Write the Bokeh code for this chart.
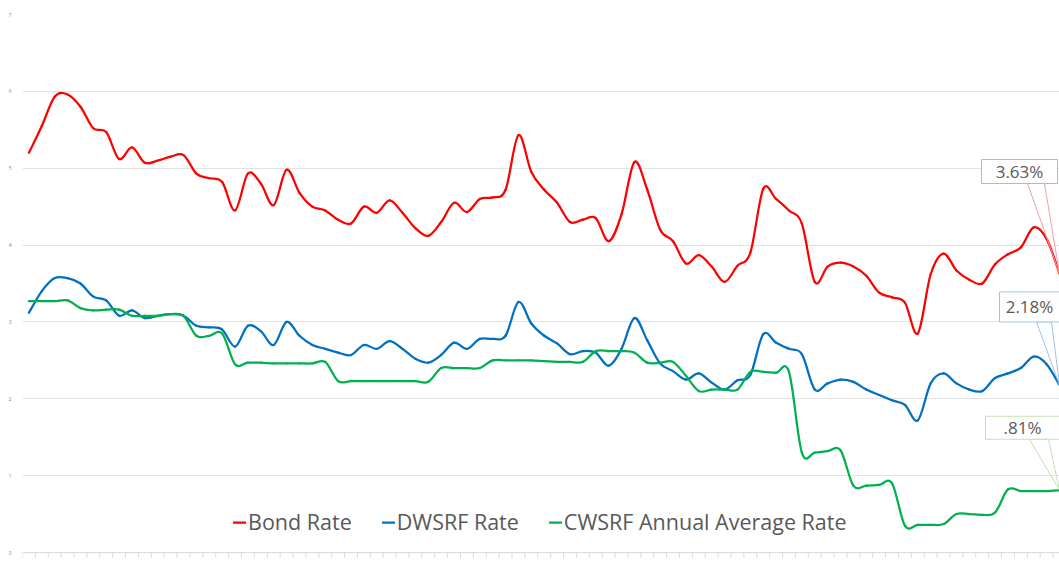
import numpy as np
from bokeh.plotting import figure
from bokeh.models import (Range1d, FixedTicker, BoxAnnotation, Span,
                          PolyAnnotation, Label, Legend, LegendItem)
from bokeh.embed import file_html
from bokeh.resources import INLINE

# ---------------- data ----------------
series_names = ["Bond Rate", "DWSRF Rate", "CWSRF Annual Average Rate"]

bond_rate = [5.20, 5.55, 5.93, 5.96, 5.80, 5.52, 5.47, 5.12, 5.27, 5.07,
             5.10, 5.15, 5.17, 4.93, 4.87, 4.82, 4.45, 4.93, 4.80, 4.52,
             4.98, 4.68, 4.50, 4.45, 4.33, 4.28, 4.50, 4.42, 4.58, 4.42,
             4.22, 4.12, 4.30, 4.55, 4.43, 4.60, 4.62, 4.72, 5.43, 4.95,
             4.72, 4.55, 4.30, 4.33, 4.35, 4.05, 4.40, 5.08, 4.72, 4.20,
             4.05, 3.76, 3.87, 3.72, 3.52, 3.73, 3.90, 4.73, 4.60, 4.45,
             4.28, 3.52, 3.72, 3.77, 3.72, 3.60, 3.38, 3.32, 3.25, 2.85,
             3.62, 3.89, 3.67, 3.55, 3.50, 3.75, 3.88, 3.97, 4.23, 4.08,
             3.63]

dwsrf_rate = [3.12, 3.40, 3.57, 3.57, 3.50, 3.33, 3.28, 3.08, 3.15, 3.05,
              3.08, 3.10, 3.08, 2.95, 2.93, 2.90, 2.68, 2.95, 2.88, 2.70,
              3.00, 2.82, 2.70, 2.65, 2.60, 2.57, 2.70, 2.65, 2.75, 2.65,
              2.52, 2.47, 2.57, 2.73, 2.65, 2.78, 2.78, 2.82, 3.26, 2.98,
              2.82, 2.72, 2.58, 2.62, 2.60, 2.43, 2.65, 3.05, 2.76, 2.46,
              2.36, 2.25, 2.33, 2.21, 2.12, 2.24, 2.31, 2.84, 2.73, 2.65,
              2.58, 2.12, 2.20, 2.25, 2.22, 2.12, 2.05, 1.98, 1.92, 1.72,
              2.20, 2.33, 2.20, 2.12, 2.10, 2.27, 2.33, 2.40, 2.55, 2.45,
              2.18]

cwsrf_rate = [3.27, 3.27, 3.27, 3.28, 3.18, 3.15, 3.16, 3.16, 3.08, 3.08,
              3.08, 3.10, 3.08, 2.82, 2.82, 2.85, 2.45, 2.47, 2.47, 2.46,
              2.46, 2.46, 2.46, 2.48, 2.23, 2.23, 2.23, 2.23, 2.23, 2.23,
              2.23, 2.22, 2.40, 2.40, 2.40, 2.40, 2.50, 2.50, 2.50, 2.50,
              2.49, 2.48, 2.48, 2.48, 2.62, 2.62, 2.62, 2.60, 2.47, 2.47,
              2.48, 2.30, 2.10, 2.12, 2.12, 2.12, 2.35, 2.35, 2.34, 2.35,
              1.30, 1.30, 1.32, 1.33, 0.87, 0.87, 0.88, 0.90, 0.35, 0.36,
              0.36, 0.37, 0.50, 0.50, 0.49, 0.52, 0.82, 0.80, 0.80, 0.80,
              0.81]

callout_texts = ["3.63%", "2.18%", ".81%"]
y_ticks = [0, 1, 2, 3, 4, 5, 6, 7]

colors = ["#FF0000", "#0070C0", "#00B050"]
callout_border = ["#F4A0A0", "#9DC3E6", "#C5E0B4"]

# ---------------- figure ----------------
n = len(bond_rate)
W, H = 1059, 580
MBL, MBR, MBT, MBB = 22, 0, 14, 22
frame_w = W - MBL - MBR
frame_h = H - MBT - MBB
px_per_y = 538.0 / 7.0            # value 0..7 spans 538 px
x_lo, x_hi = -0.5, n - 1.0
y_hi = 7.0
y_lo = y_hi - frame_h / px_per_y  # a little below zero, room for tick marks

p = figure(width=W, height=H, x_range=Range1d(x_lo, x_hi), y_range=Range1d(y_lo, y_hi),
           output_backend="svg", toolbar_location=None,
           min_border_left=MBL, min_border_right=MBR, min_border_top=MBT, min_border_bottom=MBB)
p.outline_line_color = None
p.background_fill_color = "white"
p.border_fill_color = "white"

def dx(px):
    return px * (x_hi - x_lo) / frame_w
def dy(px):
    return px / px_per_y

# y axis
p.yaxis.ticker = FixedTicker(ticks=y_ticks)
p.yaxis.axis_line_color = None
p.yaxis.major_tick_line_color = None
p.yaxis.minor_tick_line_color = None
p.yaxis.major_label_text_font_size = "5px"
p.yaxis.major_label_text_color = "#7F7F7F"
p.yaxis.major_label_text_font = "Open Sans"
p.yaxis.major_label_standoff = 5
p.ygrid.ticker = FixedTicker(ticks=y_ticks)
p.ygrid.grid_line_color = "#E3E3E3"
p.ygrid.grid_line_width = 1

# x axis: no labels; baseline and category-boundary tick marks
p.xaxis.visible = False
p.xgrid.grid_line_color = None
p.add_layout(Span(location=0, dimension="width", line_color="#D9D9D9", line_width=1))
bounds = [i - 0.5 for i in range(n)]
p.segment(x0=bounds, y0=[0] * n, x1=bounds, y1=[-dy(5)] * n,
          line_color="#D9D9D9", line_width=1)

# ---------------- smoothed lines (Bezier through data points) ----------------
def bezier_segments(ys):
    xs = np.arange(len(ys), dtype=float)
    ys = np.asarray(ys, dtype=float)
    xp = np.concatenate([[xs[0]], xs, [xs[-1]]])
    yp = np.concatenate([[ys[0]], ys, [ys[-1]]])
    i = np.arange(len(ys) - 1)
    return dict(
        x0=xs[:-1], y0=ys[:-1], x1=xs[1:], y1=ys[1:],
        cx0=xs[:-1] + (xp[i + 2] - xp[i]) / 6.0,
        cy0=ys[:-1] + (yp[i + 2] - yp[i]) / 6.0,
        cx1=xs[1:] - (xp[i + 3] - xp[i + 1]) / 6.0,
        cy1=ys[1:] - (yp[i + 3] - yp[i + 1]) / 6.0,
    )

renderers = []
for vals, col in zip([bond_rate, dwsrf_rate, cwsrf_rate], colors):
    r = p.bezier(**bezier_segments(vals), line_color=col, line_width=2.25, line_cap="round")
    renderers.append(r)

legend = Legend(items=[LegendItem(label=nm, renderers=[r]) for nm, r in zip(series_names, renderers)],
                orientation="horizontal", location=(211, 22),
                glyph_width=13, glyph_height=20, label_standoff=2, spacing=30,
                padding=0, margin=0, border_line_color=None, background_fill_alpha=0,
                label_text_font="Open Sans", label_text_font_size="21.5px",
                label_text_color="#595959")
p.add_layout(legend)

# ---------------- callouts at last points ----------------
# pixel offsets relative to the last data point: box (left, right, top, bottom), wedge base x's, text center x
callout_geom = [
    (-78, -2, 114, 90, -32, -15, -40),
    (-60, 3, 93, 63, -23, -8, -30),
    (-74, 2, 74, 51, -30, -11, -37),
]
last_x = n - 1
for vals, txt, bc, g in zip([bond_rate, dwsrf_rate, cwsrf_rate], callout_texts, callout_border, callout_geom):
    v = vals[-1]
    l, r_, t, b, w1, w2, tc = g
    wedge = PolyAnnotation(xs=[last_x + dx(w1), last_x, last_x + dx(w2)],
                           ys=[v + dy(b), v, v + dy(b)],
                           fill_color="white", fill_alpha=0.0,
                           line_color=bc, line_alpha=1.0, line_width=1)
    p.add_layout(wedge)
    box = BoxAnnotation(left=last_x + dx(l), right=last_x + dx(r_), top=v + dy(t), bottom=v + dy(b),
                        fill_color="white", fill_alpha=1.0, line_color=bc, line_width=1,
                        line_alpha=1.0)
    p.add_layout(box)
    lab = Label(x=last_x, y=v, x_offset=tc, y_offset=(t + b) / 2.0, text=txt,
                text_align="center", text_baseline="middle",
                text_font="Open Sans", text_font_size="17px", text_color="#595959")
    p.add_layout(lab)

open("out.html", "w").write(file_html(p, INLINE))
